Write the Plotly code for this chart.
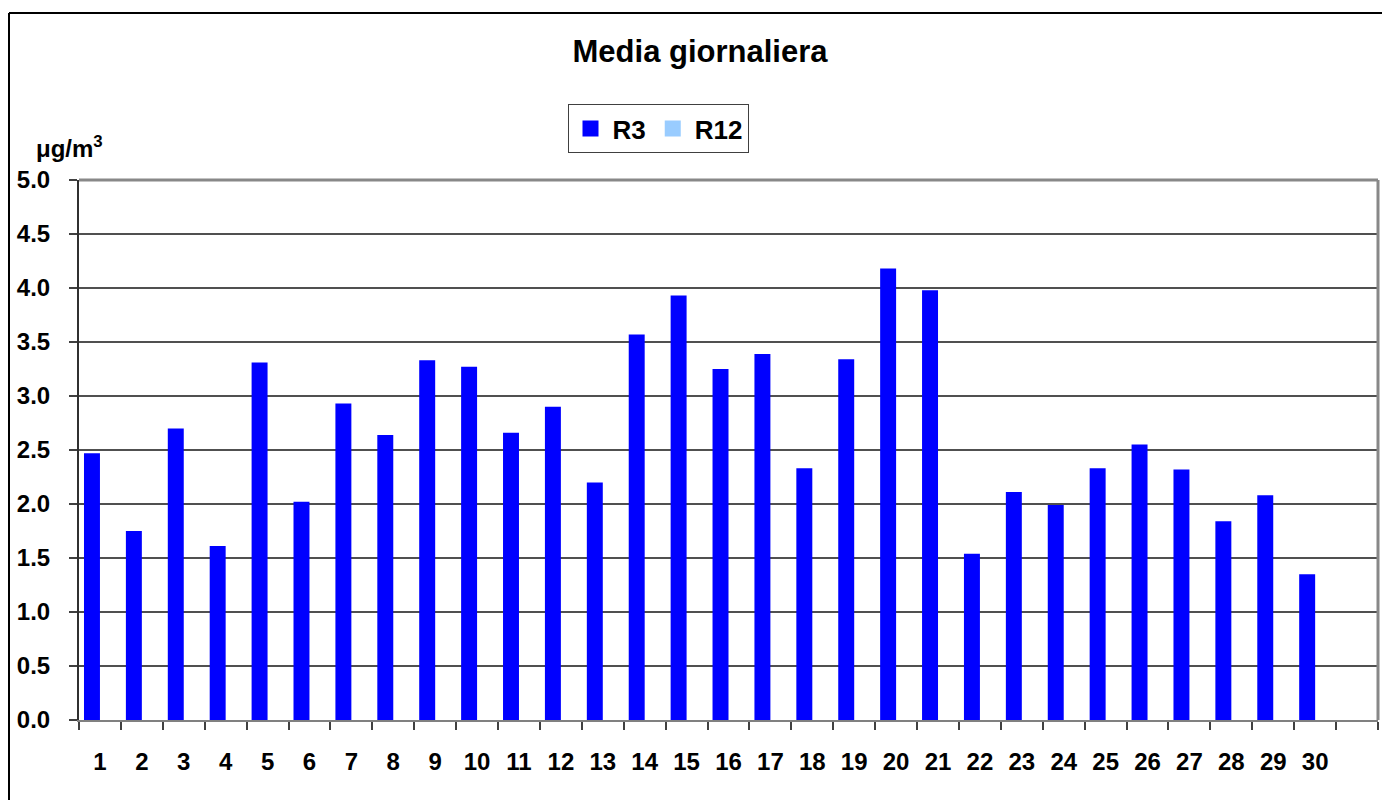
import plotly.graph_objects as go

days = [str(i) for i in range(1, 31)] + [" "]
r3_values = [2.47, 1.75, 2.70, 1.61, 3.31, 2.02, 2.93, 2.64, 3.33, 3.27,
             2.66, 2.90, 2.20, 3.57, 3.93, 3.25, 3.39, 2.33, 3.34, 4.18,
             3.98, 1.54, 2.11, 1.99, 2.33, 2.55, 2.32, 1.84, 2.08, 1.35, None]
r12_values = [None] * 31
y_ticks = [0.0, 0.5, 1.0, 1.5, 2.0, 2.5, 3.0, 3.5, 4.0, 4.5, 5.0]

OFF = 8  # page body margin
W, H = 1374, 792
PL, PR, PT, PB = 79, 1378, 180, 720  # plot area in page pixels
L = PL - OFF
T = PT - OFF
R = W - (PR - OFF)
B = H - (PB - OFF)
pw, ph = PR - PL, PB - PT

def px(x):
    return (x - PL) / pw

def py(y):
    return (PB - y) / ph

font = "Liberation Sans, Arial, sans-serif"

fig = go.Figure()
fig.add_trace(go.Bar(x=days, y=r3_values, name="R3", showlegend=False,
                     marker=dict(color="#0000FF", line=dict(width=0))))
fig.add_trace(go.Bar(x=days, y=r12_values, name="R12", showlegend=False,
                     marker=dict(color="#99CCFF", line=dict(width=0))))
# legend entries with larger square swatches
fig.add_trace(go.Scatter(x=[None], y=[None], mode="markers", name="<b>R3</b>",
                         marker=dict(symbol="square", size=20, color="#0000FF")))
fig.add_trace(go.Scatter(x=[None], y=[None], mode="markers", name="<b>R12</b>",
                         marker=dict(symbol="square", size=20, color="#99CCFF")))

fig.update_layout(
    width=W, height=H,
    margin=dict(l=L, r=R, t=T, b=B),
    paper_bgcolor="white", plot_bgcolor="white",
    barmode="group", bargap=0.238, bargroupgap=0,
    font=dict(family=font, color="black"),
    title=dict(text="<b>Media giornaliera</b>", x=px(700), xanchor="center", xref="paper",
               y=1 - (51 - OFF) / H, yanchor="middle", font=dict(size=31, family=font)),
    legend=dict(orientation="h", x=px(658), xanchor="center", y=py(104), yanchor="top",
                bgcolor="white", bordercolor="#404040", borderwidth=1,
                font=dict(size=26, family=font), itemwidth=34, traceorder="normal",
                itemsizing="trace", tracegroupgap=0),
    showlegend=True,
)

fig.update_xaxes(
    type="category", categoryorder="array", categoryarray=days, range=[-0.5, 30.5],
    tickson="boundaries", ticks="outside", ticklen=8, tickcolor="#404040", tickwidth=1.5,
    showline=True, linecolor="#808080", linewidth=2,
    showgrid=False, tickfont=dict(size=24, family=font), ticklabelstandoff=19,
    tickprefix="<b>", ticksuffix="</b>",
)
fig.update_yaxes(
    range=[0, 5], tickvals=y_ticks, ticktext=[f"<b>{v:.1f}</b>" for v in y_ticks],
    ticks="outside", ticklen=8, tickcolor="#404040", tickwidth=1.5,
    showline=True, linecolor="#303030", linewidth=2,
    showgrid=True, gridcolor="#505050", gridwidth=1.5, zeroline=False,
    tickfont=dict(size=24, family=font), ticklabelstandoff=14,
)

# plot area border (top and right gray)
fig.add_shape(type="line", xref="paper", yref="paper", x0=0, x1=1, y0=1, y1=1,
              line=dict(color="#888888", width=3), layer="above")
fig.add_shape(type="line", xref="paper", yref="paper", x0=1, x1=1, y0=0, y1=1,
              line=dict(color="#888888", width=3), layer="above")
# outer chart frame (top and left edges visible)
fig.add_shape(type="line", xref="paper", yref="paper",
              x0=px(9), x1=px(1400), y0=py(13), y1=py(13),
              line=dict(color="black", width=2), layer="above")
fig.add_shape(type="line", xref="paper", yref="paper",
              x0=px(9), x1=px(9), y0=py(13), y1=py(830),
              line=dict(color="black", width=2), layer="above")

fig.add_annotation(text="<b>μg/m<sup>3</sup></b>", xref="paper", yref="paper",
                   x=px(34), xanchor="left", y=py(147), yanchor="middle",
                   showarrow=False, font=dict(size=24, family=font))

fig.write_html("out.html")
